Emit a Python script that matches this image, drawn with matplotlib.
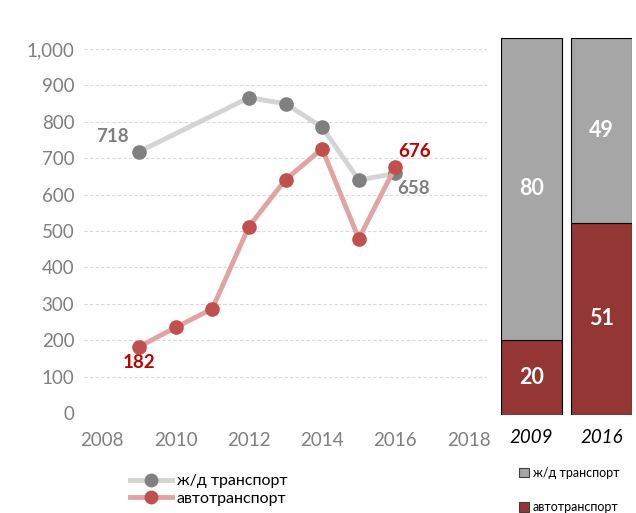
import numpy as np
import matplotlib.pyplot as plt
from matplotlib.lines import Line2D
from matplotlib.patches import Patch

plt.rcParams['font.family'] = ['Lato', 'DejaVu Sans']

# данные
years_rail = [2009, 2012, 2013, 2014, 2015, 2016]
rail = [718, 866, 850, 785, 640, 658]
years_auto = [2009, 2010, 2011, 2012, 2013, 2014, 2015, 2016]
auto = [182, 235, 286, 512, 641, 726, 479, 676]

share_years = ['2009', '2016']
share_auto = [20, 51]
share_rail = [80, 49]

lbl_rail = 'ж/д транспорт'
lbl_auto = 'автотранспорт'

c_rail_line = '#d4d4d4'
c_rail_mk = '#808080'
c_auto_line = '#e0a4a3'
c_auto_mk = '#c0504d'
c_bar_rail = '#a6a6a6'
c_bar_auto = '#943634'

fig = plt.figure(figsize=(6.36, 5.13), dpi=100)

# линии
ax = fig.add_axes([84/636, 1-413/513, (487-84)/636, (413-49)/513])
ax.plot(years_rail, rail, color=c_rail_line, lw=3.5, marker='o', ms=9.5,
        mfc=c_rail_mk, mec=c_rail_mk, clip_on=False, zorder=3)
ax.plot(years_auto, auto, color=c_auto_line, lw=3.5, marker='o', ms=9.5,
        mfc=c_auto_mk, mec=c_auto_mk, clip_on=False, zorder=4)
ax.set_xlim(2007.5, 2018.5)
ax.set_ylim(0, 1000)
ax.set_xticks(np.arange(2008, 2019, 2))
ax.set_yticks(np.arange(0, 1001, 100))
ax.yaxis.set_major_formatter(plt.FuncFormatter(lambda v, p: f'{int(v):,}'))
ax.tick_params(length=0, colors='#7f7f7f', labelsize=13.5, pad=7)
ax.tick_params(axis='x', pad=14)
ax.grid(axis='y', color='#d9d9d9', ls=(0, (3, 2)), lw=0.8)
for s in ax.spines.values():
    s.set_visible(False)

lab = dict(textcoords='offset points', ha='center', va='center',
           fontsize=13.5, fontweight='bold')
ax.annotate(str(rail[0]), (years_rail[0], rail[0]), xytext=(-19, 11),
            color='#7f7f7f', **lab)
ax.annotate(str(rail[-1]), (years_rail[-1], rail[-1]), xytext=(13, -11),
            color='#7f7f7f', **lab)
ax.annotate(str(auto[0]), (years_auto[0], auto[0]), xytext=(0, -11),
            color='#c00000', **lab)
ax.annotate(str(auto[-1]), (years_auto[-1], auto[-1]), xytext=(14, 11),
            color='#c00000', **lab)

h1 = Line2D([], [], color=c_rail_line, lw=3.5, marker='o', ms=9, mfc=c_rail_mk, mec=c_rail_mk)
h2 = Line2D([], [], color=c_auto_line, lw=3.5, marker='o', ms=9, mfc=c_auto_mk, mec=c_auto_mk)
fig.legend([h1, h2], [lbl_rail, lbl_auto], loc='center left',
           bbox_to_anchor=(116/636, 1-490/513), frameon=False, fontsize=11.5,
           handlelength=2.6, handletextpad=0.3, labelspacing=0.2)

# доли
ax2 = fig.add_axes([501/636, 1-415/513, (632-501)/636, (415-38)/513])
x = np.arange(len(share_years))
w = 0.871
ax2.bar(x, share_auto, w, color=c_bar_auto, edgecolor='black', lw=0.8)
ax2.bar(x, share_rail, w, bottom=share_auto, color=c_bar_rail, edgecolor='black', lw=0.8)
ax2.set_xlim(-w/2, 1 + w/2)
ax2.set_ylim(0, 100)
for i in range(len(x)):
    ax2.text(x[i], share_auto[i]/2, str(share_auto[i]), ha='center', va='center',
             color='white', fontsize=15.5, fontweight='bold')
    ax2.text(x[i], share_auto[i] + share_rail[i]/2, str(share_rail[i]), ha='center',
             va='center', color='white', fontsize=15.5, fontweight='bold')
ax2.set_xticks(x)
ax2.set_xticklabels(share_years, fontstyle='italic', fontsize=13.5)
ax2.set_yticks([])
ax2.tick_params(length=0, pad=10)
for s in ax2.spines.values():
    s.set_visible(False)

p1 = Patch(facecolor=c_bar_rail, edgecolor='#404040', lw=0.8)
p2 = Patch(facecolor=c_bar_auto, edgecolor='#404040', lw=0.8)
fig.legend([p1, p2], [lbl_rail, lbl_auto], loc='center left',
           bbox_to_anchor=(508/636, 1-490/513), frameon=False, fontsize=9,
           handlelength=0.8, handleheight=0.8, handletextpad=0.3, labelspacing=1.8)

fig.savefig('out.png', dpi=100)
